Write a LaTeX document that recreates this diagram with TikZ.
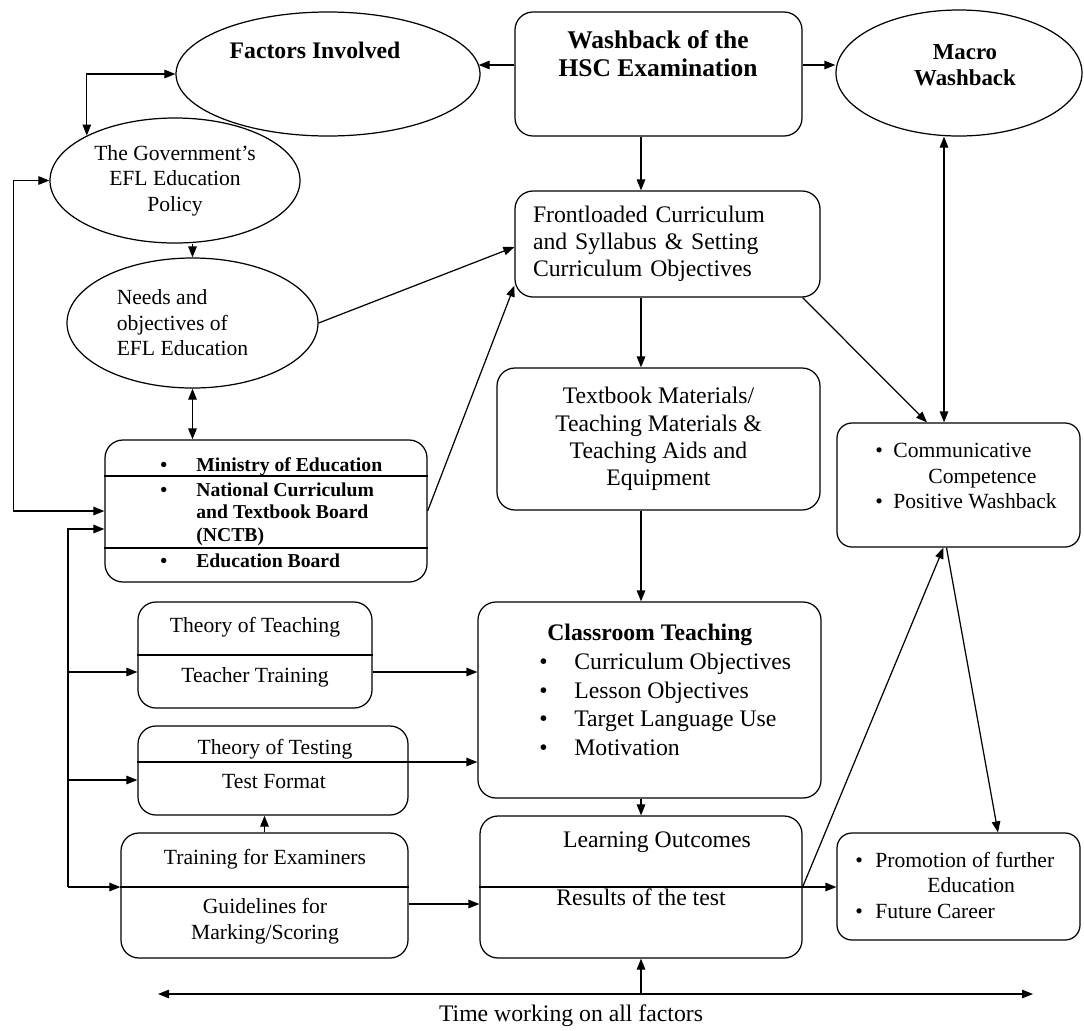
\documentclass[tikz,border=0pt]{standalone}
\usepackage{fontspec}
\setmainfont{Liberation Serif}
\usetikzlibrary{arrows.meta,positioning,shapes.geometric,calc}
\newcommand\fA{\fontsize{13.5}{15.5}\selectfont}
\newcommand\fB{\fontsize{12.3}{14.5}\selectfont}
\newcommand\fC{\fontsize{11.2}{12.8}\selectfont\bfseries}
\newcommand\bulbox[1]{\makebox[#1][l]{•}}

\begin{document}
\begin{tikzpicture}[x=0.2mm, y=-0.2mm,
  font=\fA,
  box/.style={draw, rounded corners=3.6mm, line width=0.7pt},
  oval/.style={draw, ellipse, line width=0.7pt, align=center, inner sep=0pt},
  txt/.style={inner sep=0pt, align=center},
  arr/.style={line width=0.7pt, -{Triangle[length=2.2mm,width=1.7mm]}},
  arr2/.style={line width=0.7pt, {Triangle[length=2.2mm,width=1.7mm]}-{Triangle[length=2.2mm,width=1.7mm]}},
  split/.style={line width=0.7pt}
]
\useasboundingbox (0,0) rectangle (1084,1030);

% Top row
\node[oval, minimum width=60.8mm, minimum height=24.8mm] (fac) at (328,74) {};
\node[txt, font=\fA\bfseries] (facT) at (315,50) {Factors Involved};
\node[box, minimum width=57.4mm, minimum height=24.8mm] (wash) at (658.5,74) {};
\node[txt, font=\fontsize{14.5}{15.9}\selectfont\bfseries] (washT) at (658,54) {Washback of the\\HSC Examination};
\node[oval, minimum width=49.2mm, minimum height=25.2mm] (macro) at (959,73) {};
\node[txt, font=\fontsize{13}{14.7}\selectfont\bfseries] (macroT) at (965,65) {Macro\\Washback};

% Left column
\node[oval, font=\fB, minimum width=50mm, minimum height=25mm] (gov) at (175,180.5) {The Government’s\\EFL Education\\Policy};
\node[oval, font=\fB, align=left, minimum width=50.2mm, minimum height=26mm] (needs) at (192.5,323) {Needs and\\objectives of\\EFL Education\hspace*{4mm}};

\node[box, minimum width=64.4mm, minimum height=28.4mm] (mini) at (266,511) {};
\node[txt, font=\fC, anchor=west, align=left] (miniA) at (160,467) {\bulbox{7.2mm}Ministry of Education};
\node[txt, font=\fC, anchor=west, align=left] (miniB) at (160,514) {\bulbox{7.2mm}National Curriculum\\\hspace*{7.2mm}and Textbook Board\\\hspace*{7.2mm}(NCTB)};
\node[txt, font=\fC, anchor=west, align=left] (miniC) at (160,561) {\bulbox{7.2mm}Education Board};
\draw[split] ($(mini.west)+(0,-35)$) -- ($(mini.east)+(0,-35)$);
\draw[split] ($(mini.west)+(0,37)$) -- ($(mini.east)+(0,37)$);

\node[box, minimum width=46.8mm, minimum height=21.2mm] (teach) at (255,655) {};
\node[txt, font=\fB] (teachA) at (255,627) {Theory of Teaching};
\node[txt, font=\fB] (teachB) at (255,677) {Teacher Training};
\draw[split] (teach.west) -- (teach.east);

\node[box, minimum width=54mm, minimum height=17.8mm] (test) at (273,770.5) {};
\node[txt, font=\fB] (testA) at (275,749) {Theory of Testing};
\node[txt, font=\fB] (testB) at (274,782) {Test Format};

\node[box, minimum width=57.4mm, minimum height=25mm] (exam) at (264.5,895.5) {};
\node[txt, font=\fB] (examA) at (265,859) {Training for Examiners};
\node[txt, font=\fB] (examB) at (265,921) {Guidelines for\\Marking/Scoring};
\draw[split] ($(exam.west)+(0,-8.5)$) -- ($(exam.east)+(0,-8.5)$);

% Middle column
\node[box, text width=53.8mm, inner xsep=3.6mm, align=left, minimum height=21.2mm] (front) at (667.5,244) {Frontloaded Curriculum\\and Syllabus \& Setting\\Curriculum Objectives};
\node[box, align=center, minimum width=64.6mm, minimum height=28.4mm] (tbook) at (658.5,439) {Textbook Materials/\\Teaching Materials \&\\Teaching Aids and\\Equipment};
\node[box, minimum width=68.6mm, minimum height=39.2mm] (class) at (649.5,700) {};
\node[txt, anchor=west, align=left, font=\fontsize{13.5}{16.4}\selectfont] (classT) at (539,690) {\hspace*{1.6mm}\textbf{Classroom Teaching}\\\bulbox{7mm}Curriculum Objectives\\\bulbox{7mm}Lesson Objectives\\\bulbox{7mm}Target Language Use\\\bulbox{7mm}Motivation};
\node[box, minimum width=64.4mm, minimum height=28.4mm] (learn) at (641,887) {};
\node[txt] (learnA) at (657,842) {Learning Outcomes};
\node[txt] (learnB) at (641,897) {Results of the test};

% Right column
\node[box, rounded corners=3mm, minimum width=48.6mm, minimum height=24.8mm] (comm) at (958.5,485) {};
\node[txt, font=\fB, anchor=west, align=left] (commT) at (875,476) {\bulbox{3.6mm}Communicative\\\hspace*{10.6mm}Competence\\\bulbox{3.6mm}Positive Washback};
\node[box, rounded corners=3mm, minimum width=48.6mm, minimum height=21.4mm] (promo) at (958.5,886.5) {};
\node[txt, font=\fB, anchor=west, align=left] (promoT) at (855,885) {\bulbox{4mm}Promotion of further\\\hspace*{14.4mm}Education\\\bulbox{4mm}Future Career};

% Time axis
\node[txt] (timeT) at (571,1016) {Time working on all factors};
\coordinate (tl) at (158,994);
\coordinate (tr) at (1033,994);
\coordinate (spine) at (641,994);
\coordinate (bus) at (68,887);
\coordinate (mvert) at (944,0);
\coordinate (washL) at ($(wash.west)+(0,-9)$);
\coordinate (washR) at ($(wash.east)+(0,-9)$);
\coordinate (teachout) at ($(teach.east)+(0,17)$);
\coordinate (testin) at ($(test.west)+(0,9.5)$);
\coordinate (testcut) at ($(test.west)+(0,-8.5)$);
\coordinate (examout) at ($(exam.east)+(0,8.5)$);

% Top connectors
\draw[arr] (washL) -- ($(washL -| fac.east)+(-2,0)$);
\draw[arr] (washR) -- (washR -| macro.west);
\draw[arr2] (gov.153) |- (fac.west);
\draw[arr2] (gov.west) -- ++(-36,0) |- (mini.west);
\draw[arr] (gov.south -| needs.north) -- (needs.north);
\draw[arr2] (needs.south) -- (needs.south |- mini.north);
\draw[arr] (needs.east) -- ($(front.west)+(0,3)$);
\draw[arr] (mini.east) -- ($(front.south west)+(0,-12)$);

% Spine
\draw[arr] (spine |- wash.south) -- (spine |- front.north);
\draw[arr] (spine |- front.south) -- (spine |- tbook.north);
\draw[arr] (spine |- tbook.south) -- (spine |- class.north);
\draw[arr] (spine |- class.south) -- (spine |- learn.north);
\draw[arr] (spine) -- (learn.south);
\draw[arr2] (tl) -- (tr);

% Left bus
\draw[arr] (bus) |- ($(mini.west)+(0,18)$);
\draw[arr] (bus) -- (bus -| exam.west);
\draw[arr] (bus |- teachout) -- (teachout -| teach.west);
\draw[arr] (bus |- testin) -- (testin);
\draw[arr] (teachout) -- (teachout -| class.west);
\draw[arr] (testcut) -- (testcut -| class.west);
\draw[arr] (examout) -- (examout -| learn.west);
\draw[arr] (exam.north) -- (exam.north |- test.south);

% Right side
\draw[arr] ($(front.south east)+(-18,0)$) -- ($(comm.north)+(-31.5,0)$);
\draw[arr2] (mvert |- macro.south) -- (mvert |- comm.north);
\draw[arr] (learn.east) -- ($(comm.south)+(-15,0)$);
\draw[arr] ($(comm.south)+(-12,0)$) -- ($(promo.north)+(39.5,0)$);
\draw[arr] (learn.west) -- (learn.west -| promo.west);
\end{tikzpicture}
\end{document}
